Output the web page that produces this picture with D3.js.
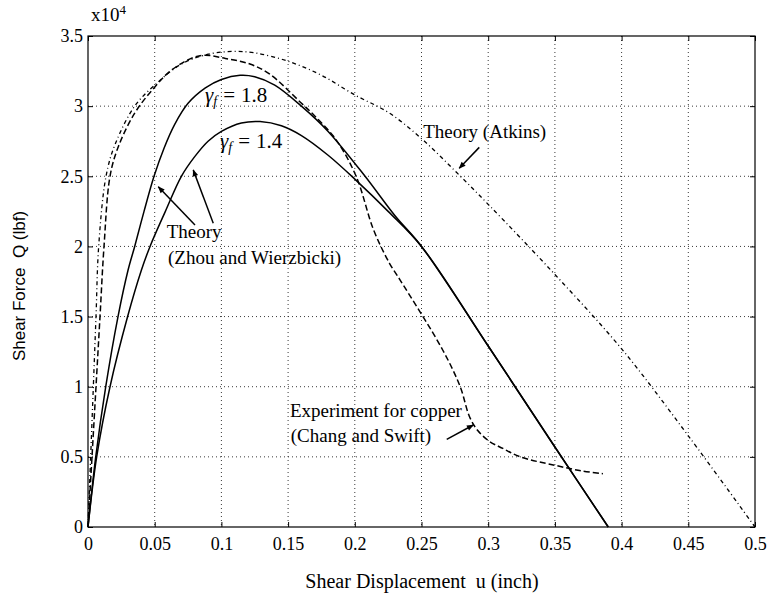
<!DOCTYPE html>
<html>
<head>
<meta charset="utf-8">
<script src="https://cdn.jsdelivr.net/npm/d3@7"></script>
<style>
  body { margin: 0; background: #fff; }
  svg { display: block; }
  text { fill: #000; }
</style>
</head>
<body>
<svg id="chart" width="772" height="598"></svg>
<script>
// shear displacement u (inch), shear force Q (x10^4 lbf)
const xTicks = [0, 0.05, 0.1, 0.15, 0.2, 0.25, 0.3, 0.35, 0.4, 0.45, 0.5]
const yTicks = [0, 0.5, 1, 1.5, 2, 2.5, 3, 3.5]

const gamma18 = [[0,0],[0.0058,0.5],[0.0133,1.0],[0.0225,1.5],[0.030,1.83],[0.035,2.0],[0.042,2.25],
  [0.0495,2.5],[0.057,2.7],[0.065,2.87],[0.075,3.02],[0.088,3.13],[0.1,3.19],[0.114,3.22],[0.125,3.21],
  [0.14,3.15],[0.16,3.0],[0.18,2.82],[0.2077,2.5],[0.23,2.22],[0.25,2.0],[0.3,1.29],
  [0.35,0.57],[0.39,0]]
const gamma14 = [[0,0],[0.0065,0.5],[0.0165,1.0],[0.0297,1.5],[0.040,1.83],[0.0465,2.0],[0.058,2.25],
  [0.070,2.5],[0.08,2.64],[0.09,2.75],[0.1,2.82],[0.115,2.88],[0.129,2.89],[0.145,2.86],[0.16,2.79],
  [0.18,2.65],[0.2,2.48],[0.225,2.25],[0.25,2.0],[0.3,1.29],[0.35,0.57],[0.39,0]]
const experiment = [[0,0],[0.003,0.5],[0.006,1.0],[0.009,1.5],[0.012,2.0],[0.0165,2.5],[0.0227,2.71],
  [0.035,2.95],[0.0495,3.13],[0.063,3.26],[0.084,3.36],[0.103,3.34],[0.1214,3.30],[0.136,3.23],
  [0.159,3.03],[0.171,2.92],[0.186,2.76],[0.201,2.5],[0.214,2.12],[0.226,1.88],[0.234,1.76],
  [0.266,1.26],[0.279,1.0],[0.286,0.786],[0.292,0.69],[0.301,0.61],[0.311,0.56],[0.324,0.50],
  [0.35,0.44],[0.37,0.40],[0.386,0.38]]
const atkins = [[0,0],[0.002,0.5],[0.004,1.0],[0.006,1.5],[0.008,2.0],[0.0135,2.5],[0.02,2.72],
  [0.035,3.0],[0.05,3.15],[0.07,3.3],[0.09,3.37],[0.108,3.39],[0.125,3.38],[0.15,3.32],[0.175,3.22],
  [0.2,3.08],[0.226,2.95],[0.251,2.76],[0.276,2.53],[0.3,2.3],[0.35,1.8],[0.4,1.27],[0.45,0.65],[0.5,0]]

// annotations: [from, to] in data units
const arrows = [
  [[0.0802,2.152],[0.0527,2.425]],
  [[0.0939,2.165],[0.0789,2.545]],
  [[0.2933,2.706],[0.2783,2.557]],
  [[0.2689,0.625],[0.2888,0.727]]
]
const labels = [
  {text: "Theory", u: 0.059, q: 2.06},
  {text: "(Zhou and Wierzbicki)", u: 0.06, q: 1.875},
  {text: "Theory (Atkins)", u: 0.2513, q: 2.77},
  {text: "Experiment for copper", u: 0.1514, q: 0.786},
  {text: "(Chang and Swift)", u: 0.152, q: 0.608}
]
const gammaLabels = [
  {value: "1.8", u: 0.0877, q: 3.03},
  {value: "1.4", u: 0.099, q: 2.70}
]

let svg = d3.select("#chart"),
    mLeft = 88, mRight = 755, mTop = 36, mBottom = 527,
    serif = "'Liberation Serif', 'Times New Roman', serif"

let x = d3.scaleLinear().domain([0, 0.5]).range([mLeft, mRight])
let y = d3.scaleLinear().domain([0, 3.5]).range([mBottom, mTop])

// grid
let grid = svg.append("g").attr("stroke", "#222").attr("stroke-width", 0.9).attr("stroke-dasharray", "1,3")
grid.selectAll(".vx").data(xTicks.slice(1, -1)).enter().append("line")
    .attr("x1", d => x(d)).attr("x2", d => x(d)).attr("y1", mTop).attr("y2", mBottom)
grid.selectAll(".hy").data(yTicks.slice(1, -1)).enter().append("line")
    .attr("x1", mLeft).attr("x2", mRight).attr("y1", d => y(d)).attr("y2", d => y(d))

// axes, ticks inward on all four sides
function styleAxis(g) {
  g.select(".domain").remove()
  g.selectAll(".tick line").attr("stroke", "#000")
  g.selectAll("text").style("font-family", serif).style("font-size", "18px")
}
svg.append("g").attr("transform", "translate(0," + mBottom + ")")
    .call(d3.axisBottom(x).tickValues(xTicks).tickFormat(d => d).tickSizeInner(-5).tickSizeOuter(0).tickPadding(10))
    .call(styleAxis)
svg.append("g").attr("transform", "translate(0," + mTop + ")")
    .call(d3.axisTop(x).tickValues(xTicks).tickFormat("").tickSizeInner(-5).tickSizeOuter(0))
    .call(styleAxis)
svg.append("g").attr("transform", "translate(" + mLeft + ",0)")
    .call(d3.axisLeft(y).tickValues(yTicks).tickFormat(d => d).tickSizeInner(-5).tickSizeOuter(0).tickPadding(5))
    .call(styleAxis)
svg.append("g").attr("transform", "translate(" + mRight + ",0)")
    .call(d3.axisRight(y).tickValues(yTicks).tickFormat("").tickSizeInner(-5).tickSizeOuter(0))
    .call(styleAxis)

svg.append("rect").attr("x", mLeft).attr("y", mTop).attr("width", mRight - mLeft).attr("height", mBottom - mTop)
    .attr("fill", "none").attr("stroke", "#000").attr("stroke-width", 1.2)

// curves
let line = d3.line().x(d => x(d[0])).y(d => y(d[1])).curve(d3.curveCatmullRom.alpha(0.5))
let series = [
  {data: atkins, width: 1.3, dash: "4,3,1,3"},
  {data: experiment, width: 1.5, dash: "6,3"},
  {data: gamma14, width: 1.5, dash: null},
  {data: gamma18, width: 1.5, dash: null}
]
svg.append("g").selectAll("path").data(series).enter().append("path")
    .attr("d", d => line(d.data))
    .attr("fill", "none").attr("stroke", "#000")
    .attr("stroke-width", d => d.width)
    .attr("stroke-dasharray", d => d.dash)

// arrows
svg.append("defs").append("marker")
    .attr("id", "head").attr("viewBox", "0 0 10 10").attr("refX", 9).attr("refY", 5)
    .attr("markerWidth", 10).attr("markerHeight", 7).attr("markerUnits", "userSpaceOnUse")
    .attr("orient", "auto")
  .append("path").attr("d", "M0,1 L10,5 L0,9 Z").attr("fill", "#000")
svg.append("g").selectAll("line").data(arrows).enter().append("line")
    .attr("x1", d => x(d[0][0])).attr("y1", d => y(d[0][1]))
    .attr("x2", d => x(d[1][0])).attr("y2", d => y(d[1][1]))
    .attr("stroke", "#000").attr("stroke-width", 1.5).attr("marker-end", "url(#head)")

// text labels
svg.append("g").selectAll("text").data(labels).enter().append("text")
    .attr("x", d => x(d.u)).attr("y", d => y(d.q))
    .style("font-family", serif).style("font-size", "19px")
    .text(d => d.text)

let g = svg.append("g").selectAll("text").data(gammaLabels).enter().append("text")
    .attr("x", d => x(d.u)).attr("y", d => y(d.q))
    .style("font-family", serif).style("font-size", "21px")
g.append("tspan").style("font-style", "italic").text("γ")
g.append("tspan").style("font-style", "italic").style("font-size", "14px").attr("dy", 4).text("f")
g.append("tspan").attr("dy", -4).attr("dx", 6).text("=")
g.append("tspan").attr("dx", 6).text(d => d.value)

let exp = svg.append("text").attr("x", 91).attr("y", 21)
    .style("font-family", serif).style("font-size", "19px")
exp.append("tspan").text("x10")
exp.append("tspan").attr("dy", -7).style("font-size", "13px").text("4")

svg.append("text")
    .attr("x", 422).attr("y", 588).attr("text-anchor", "middle")
    .style("font-family", serif).style("font-size", "20px")
    .style("white-space", "pre")
    .text("Shear Displacement  u (inch)")

svg.append("text")
    .attr("transform", "translate(25,286) rotate(-90)").attr("text-anchor", "middle")
    .style("font-family", "'Liberation Sans', Arial, sans-serif").style("font-size", "17px")
    .style("white-space", "pre")
    .text("Shear Force  Q (lbf)")
</script>
</body>
</html>
